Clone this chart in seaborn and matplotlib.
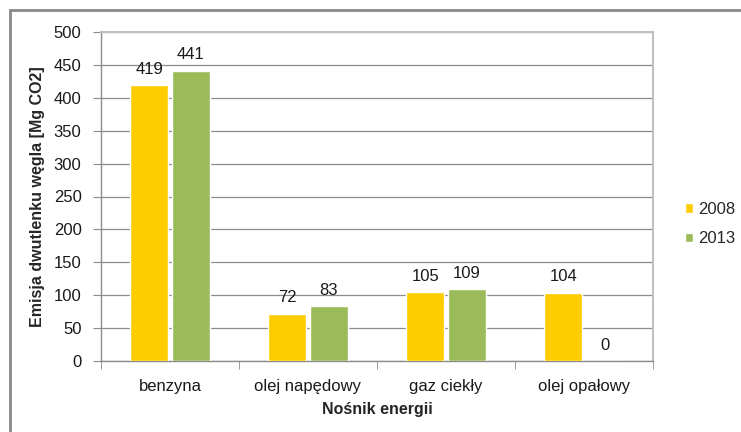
import seaborn as sns
import numpy as np
import pandas as pd
import matplotlib.pyplot as plt
from matplotlib.patches import Rectangle

categories = ['benzyna', 'olej napędowy', 'gaz ciekły', 'olej opałowy']
years = ['2008', '2013']
values_2008 = [419, 72, 105, 104]
values_2013 = [441, 83, 109, 0]

df = pd.DataFrame({
    'nosnik': categories * 2,
    'rok': [years[0]] * 4 + [years[1]] * 4,
    'emisja': values_2008 + values_2013,
})

sns.set_style('white')
plt.rcParams['font.family'] = ['Liberation Sans', 'DejaVu Sans']

fig = plt.figure(figsize=(7.41, 4.32), dpi=100)
ax = fig.add_axes([101 / 741, 1 - 361 / 432, 552 / 741, 329 / 432])

sns.barplot(data=df, x='nosnik', y='emisja', hue='rok', order=categories, hue_order=years,
            palette=['#FFCC00', '#9BBB59'], width=0.6, gap=0.08, saturation=1, ax=ax, zorder=3)

for cont in ax.containers:
    ax.bar_label(cont, fmt='%d', padding=6, fontsize=12, color='#1a1a1a')

ax.set_ylim(0, 500)
ax.set_xlim(-0.5, 3.5)
ax.set_yticks(np.arange(0, 501, 50))
ax.yaxis.grid(True, color='#8C8C8C', linewidth=0.9, zorder=0)
ax.set_axisbelow(True)

ax.set_xticks(np.arange(-0.5, 4, 1), minor=True)
ax.tick_params(axis='x', which='major', length=0, pad=13, labelsize=12, labelcolor='#1a1a1a')
ax.tick_params(axis='x', which='minor', length=6, color='#8C8C8C', direction='out', bottom=True)
ax.tick_params(axis='y', length=6, color='#8C8C8C', direction='out', left=True, labelsize=12,
               labelcolor='#1a1a1a', pad=8)

for side in ['left', 'bottom']:
    ax.spines[side].set_color('#8C8C8C')
    ax.spines[side].set_linewidth(1.0)
for side in ['top', 'right']:
    ax.spines[side].set_visible(True)
    ax.spines[side].set_color('#C0C0C0')
    ax.spines[side].set_linewidth(1.5)

ax.set_xlabel('Nośnik energii', fontsize=11.5, fontweight='bold', labelpad=6)
ax.set_ylabel('Emisja dwutlenku węgla [Mg CO2]', fontsize=11.5, fontweight='bold', labelpad=6)

ax.legend(loc='center left', bbox_to_anchor=(1.03, 0.416), frameon=False, fontsize=12,
          handlelength=0.5, handleheight=0.5, handletextpad=0.3, labelspacing=0.85)

fig.patches.append(Rectangle((10 / 741, -0.05), 1.0, 1 - 10 / 432 + 0.05, transform=fig.transFigure,
                             fill=False, edgecolor='#888888', linewidth=2))

fig.savefig('out.png', dpi=100)
